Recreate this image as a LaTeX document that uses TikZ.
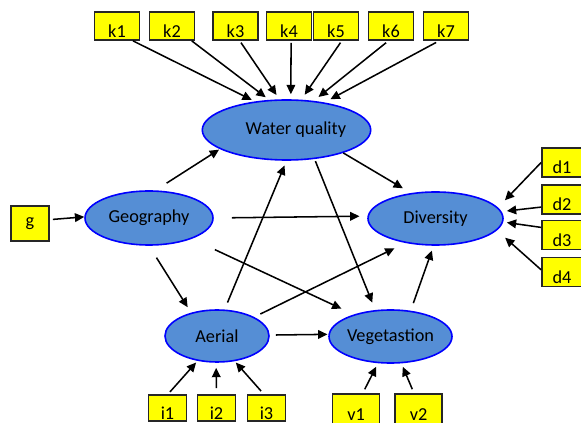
\documentclass[tikz,border=0pt]{standalone}
\usepackage{fontspec}
\setmainfont{Carlito}
\usetikzlibrary{arrows.meta,shapes.geometric}
\definecolor{latentblue}{RGB}{85,142,213}
\definecolor{boxyellow}{RGB}{255,255,0}

\begin{document}
\begin{tikzpicture}[
    x=0.75pt, y=-0.75pt,
    latent/.style={ellipse, draw=blue, line width=1.2pt, fill=latentblue, inner sep=0pt, font=\fontsize{13.7}{16}\selectfont},
    indicator/.style={rectangle, draw=black!85, line width=1.3pt, fill=boxyellow, inner sep=0pt, font=\fontsize{13.7}{16}\selectfont},
    lowtext/.style={text height=17pt, text depth=0pt},
    line/.style={-{Triangle[length=7pt,width=6.5pt]}, line width=1.15pt, black}
]
\useasboundingbox (0,0) rectangle (581,423);

% latent variables
\node[latent, minimum width=123.75pt, minimum height=45pt] (water) at (286.5,130) {\hspace*{14pt}Water quality};
\node[latent, minimum width=96pt, minimum height=40.5pt] (geo) at (149,218) {Geography};
\node[latent, minimum width=78pt, minimum height=39pt] (aer) at (217,336) {Aerial};
\node[latent, minimum width=101.25pt, minimum height=39.75pt] (div) at (435.5,218.5) {Diversity};
\node[latent, minimum width=92.25pt, minimum height=39.75pt] (veg) at (390.5,336.5) {Vegetastion};

% indicators
\foreach \n/\x in {1/117,2/172,3/235.5,4/289,5/336,6/391,7/446}
  \node[indicator, lowtext, minimum width=33.75pt, minimum height=21pt] (k\n) at (\x,26) {k\n};
\node[indicator, minimum width=28.5pt, minimum height=26.25pt] (g) at (30,223.5) {g};
\foreach \n/\x in {1/167.5,2/216.5,3/266.5}
  \node[indicator, lowtext, minimum width=28.5pt, minimum height=19.5pt] (i\n) at (\x,408) {i\n};
\foreach \n/\x in {1/356,2/418.5}
  \node[indicator, lowtext, minimum width=35.25pt, minimum height=22.5pt] (v\n) at (\x,409) {v\n};
\foreach \n/\y in {1/162.5,2/199.5,3/235,4/272}
  \node[indicator, lowtext, minimum width=30pt, minimum height=21.75pt] (d\n) at (562,\y) {d\n};

% measurement arrows
\foreach \n/\sa/\ss/\ea/\es in {1/-43/0/138.2/2.5, 2/-37.9/0/120.6/3.2, 3/-74.3/1.6/103.7/3.9,
    4/-82.9/1.5/82.7/3.8, 5/-69.4/1.6/64.8/4.5, 6/-100/2.2/47.3/4.6, 7/-115.2/2.5/36.8/5.1}
  \draw[line, shorten <=\ss pt, shorten >=\es pt] (k\n.\sa) -- (water.\ea);
\draw[line, shorten <=2.3pt] (g.11.6) -- (geo.179);
\draw[line, shorten <=2.2pt, shorten >=1.6pt] (i1.88) -- (aer.232.4);
\draw[line, shorten <=4.5pt, shorten >=3.8pt] (i2.90) -- (aer.-92);
\draw[line, shorten <=3.1pt, shorten >=1.3pt] (i3.101.6) -- (aer.-55.3);
\draw[line, shorten <=3.2pt, shorten >=2.9pt] (v1.67.2) -- (veg.245.4);
\draw[line, shorten <=3.2pt, shorten >=2.8pt] (v2.106.1) -- (veg.-68.7);
\draw[line, shorten >=7.5pt] (d1.180) -- (div.10.8);
\draw[line, shorten >=4pt] (d2.200.6) -- (div.6.1);
\draw[line, shorten >=2.7pt] (d3.160.7) -- (div.-3.65);
\draw[line, shorten >=8.2pt] (d4.174.3) -- (div.-11.6);

% structural arrows
\draw[line, shorten <=10pt, shorten >=0.7pt] (geo.77.3) -- (water.196.4);
\draw[line, shorten <=13.5pt, shorten >=6pt] (geo.0.7) -- (div.178.9);
\draw[line, shorten <=19.1pt, shorten >=10.2pt] (geo.-26.6) -- (veg.149);
\draw[line, shorten <=10.5pt, shorten >=4.8pt] (geo.-90) -- (aer.138);
\draw[line, shorten <=5.6pt, shorten >=3.8pt] (aer.74.7) -- (water.-90.8);
\draw[line, shorten <=5.1pt, shorten >=9pt] (aer.27.6) -- (div.219.3);
\draw[line, shorten <=4.5pt, shorten >=0.75pt] (aer.1) -- (veg.178.6);
\draw[line, shorten >=7pt] (water.-22) -- (div.134.1);
\draw[line, shorten <=1.7pt, shorten >=6pt] (water.-46.5) -- (veg.120.96);
\draw[line, shorten <=6pt, shorten >=3.8pt] (veg.52.1) -- (div.-94.5);
\end{tikzpicture}
\end{document}
